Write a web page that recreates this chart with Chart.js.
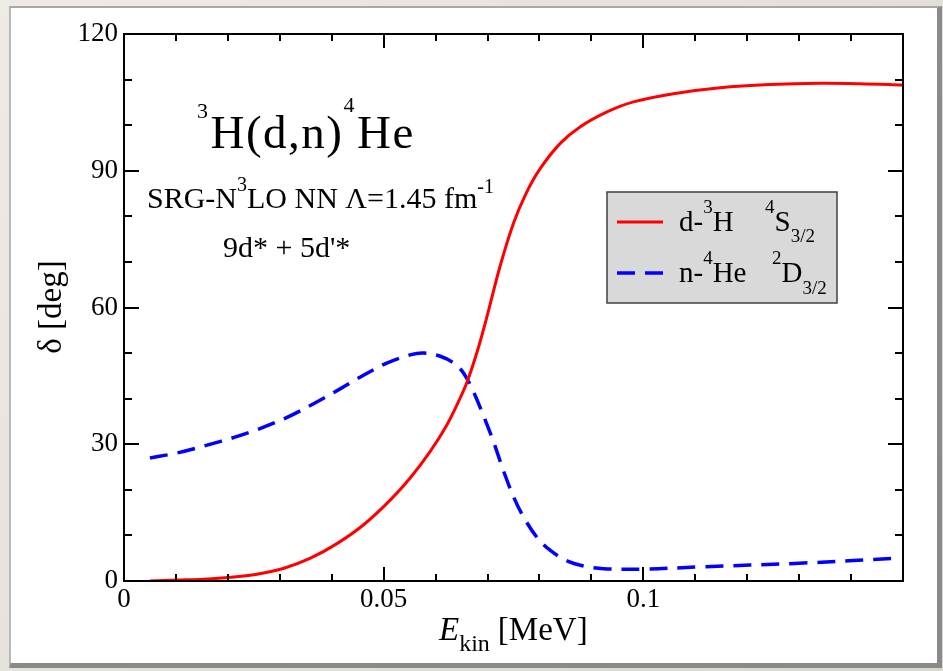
<!DOCTYPE html>
<html><head><meta charset="utf-8">
<script src="https://cdn.jsdelivr.net/npm/chart.js@4.4.1/dist/chart.umd.min.js"></script>
<style>
html,body{margin:0;padding:0;width:943px;height:671px;overflow:hidden;}
body{background:linear-gradient(135deg,#eeeae6 0%,#e4e0dc 50%,#d9d5d1 100%);position:relative;}
#panel{position:absolute;left:9px;top:6px;width:933px;height:662px;box-sizing:border-box;background:#fff;border-top:2px solid #a8a8a8;border-left:2px solid #b8b8b8;border-right:5px solid #8a8a8a;border-bottom:5px solid #8a8a8a;}
canvas{position:absolute;left:0;top:0;}
</style></head><body>
<div id="panel"></div>
<canvas id="c" width="943" height="671"></canvas>
<script>
// d-3H 4S3/2 phase shift
const dtE = [0.005, 0.0103, 0.0154, 0.0205, 0.0256, 0.0308, 0.0359, 0.041, 0.0462, 0.0513, 0.0551, 0.059, 0.0622, 0.0641, 0.066, 0.068, 0.0698, 0.0724, 0.075, 0.0775, 0.0801, 0.084, 0.0878, 0.093, 0.0981, 0.1058, 0.1148, 0.1244, 0.134, 0.1417, 0.15];
const dtDelta = [0.0, 0.2, 0.4, 0.8, 1.5, 2.8, 5.0, 8.2, 12.4, 17.8, 22.6, 28.5, 34.3, 38.6, 43.5, 50.3, 57.6, 69.0, 78.5, 85.2, 90.4, 96.0, 99.6, 102.9, 105.1, 106.9, 108.2, 108.9, 109.2, 109.1, 108.8];
// n-4He 2D3/2 phase shift
const nHeE = [0.005, 0.0103, 0.016, 0.0212, 0.0263, 0.0314, 0.0365, 0.0417, 0.0462, 0.0506, 0.0551, 0.0577, 0.0609, 0.0635, 0.0654, 0.0673, 0.0692, 0.0712, 0.0731, 0.075, 0.0769, 0.0795, 0.0821, 0.0853, 0.0885, 0.0923, 0.1, 0.111, 0.13, 0.149];
const nHeDelta = [27.0, 28.1, 29.8, 31.5, 33.5, 35.9, 38.9, 42.2, 45.2, 47.8, 49.6, 50.0, 49.3, 47.8, 45.6, 41.5, 36.3, 30.4, 24.1, 18.5, 14.1, 9.6, 6.7, 4.4, 3.3, 2.7, 2.6, 3.1, 3.9, 5.0];

const xTickValues = [0, 0.05, 0.1, 0.15];
const xTickLabels = ['0', '0.05', '0.1', ''];
const yTickValues = [0, 30, 60, 90, 120];
const yTickLabels = ['0', '30', '60', '90', '120'];

const serif = '"Liberation Serif","Times New Roman",serif';
function fnt(size, italic){ return (italic ? 'italic ' : '') + size + 'px ' + serif; }
function drawRuns(ctx, x, y, runs, spacing){
  let cx = x;
  ctx.letterSpacing = (spacing || 0) + 'px';
  for (const r of runs){
    ctx.font = fnt(r[1], r[3]);
    ctx.fillText(r[0], cx, y + (r[2] || 0));
    cx += ctx.measureText(r[0]).width + (r[4] || 0);
  }
  ctx.letterSpacing = '0px';
  return cx;
}

const framePlugin = {
  id: 'frame',
  afterDatasetsDraw(chart){
    const ctx = chart.ctx, a = chart.chartArea, xs = chart.scales.x, ys = chart.scales.y;
    ctx.save();
    ctx.strokeStyle = '#000'; ctx.lineWidth = 2; ctx.lineCap = 'butt';
    ctx.strokeRect(a.left, a.top, a.right - a.left, a.bottom - a.top);
    ctx.beginPath();
    for (let i = 1; i < 15; i++){
      const px = Math.round(xs.getPixelForValue(i / 100));
      const len = (i % 5 === 0) ? 14 : 7;
      ctx.moveTo(px, a.bottom); ctx.lineTo(px, a.bottom - len);
      ctx.moveTo(px, a.top); ctx.lineTo(px, a.top + len);
    }
    for (let j = 1; j < 12; j++){
      const py = Math.round(ys.getPixelForValue(j * 10));
      const len = (j % 3 === 0) ? 15 : 8;
      ctx.moveTo(a.left, py); ctx.lineTo(a.left + len, py);
      ctx.moveTo(a.right, py); ctx.lineTo(a.right - len, py);
    }
    ctx.stroke();
    ctx.restore();
  },
  afterDraw(chart){
    const ctx = chart.ctx;
    ctx.save();
    ctx.fillStyle = '#000';
    ctx.textBaseline = 'alphabetic';
    ctx.textAlign = 'left';
    // axis titles
    drawRuns(ctx, 439, 640, [['E', 33, 0, true], ['kin', 24, 11, false, 8], ['[MeV]', 33, 0]]);
    ctx.save();
    ctx.translate(61, 307);
    ctx.rotate(-Math.PI / 2);
    ctx.font = fnt(33);
    ctx.textAlign = 'center';
    ctx.fillText('\u03b4 [deg]', 0, 0);
    ctx.restore();
    // annotations
    drawRuns(ctx, 197, 148, [['3', 22, -30, false, 1], ['H(d,n)', 47, 0], ['4', 22, -36, false, 1], ['He', 47, 0]], 1.5);
    drawRuns(ctx, 147, 208, [['SRG-N', 30, 0], ['3', 20, -17], ['LO NN \u039b=1.45 fm', 30, 0], ['-1', 20, -15]]);
    drawRuns(ctx, 223, 257, [["9d* + 5d'*", 30, 0]]);
    // legend
    ctx.fillStyle = '#d9d9d9';
    ctx.fillRect(607, 192, 230, 111);
    ctx.strokeStyle = '#404040'; ctx.lineWidth = 1.5;
    ctx.strokeRect(607, 192, 230, 111);
    const ds = chart.data.datasets;
    ctx.lineWidth = ds[0].borderWidth; ctx.strokeStyle = ds[0].borderColor; ctx.setLineDash([]);
    ctx.beginPath(); ctx.moveTo(617, 222); ctx.lineTo(663, 222); ctx.stroke();
    ctx.lineWidth = ds[1].borderWidth; ctx.strokeStyle = ds[1].borderColor; ctx.setLineDash(ds[1].borderDash);
    ctx.beginPath(); ctx.moveTo(617, 273); ctx.lineTo(663, 273); ctx.stroke();
    ctx.setLineDash([]);
    ctx.fillStyle = '#000';
    drawRuns(ctx, 679, 231, [['d-', 29, 0], ['3', 19, -18], ['H', 29, 0]]);
    drawRuns(ctx, 765, 231, [['4', 19, -18], ['S', 29, 0], ['3/2', 19, 11]]);
    drawRuns(ctx, 679, 282, [['n-', 29, 0], ['4', 19, -18], ['He', 29, 0]]);
    drawRuns(ctx, 772, 282, [['2', 19, -18], ['D', 29, 0], ['3/2', 19, 12]]);
    ctx.restore();
  }
};

new Chart(document.getElementById('c').getContext('2d'), {
  type: 'line',
  data: {
    datasets: [
      { label: 'd-3H 4S3/2', data: dtE.map((e, i) => ({ x: e, y: dtDelta[i] })), borderColor: '#ff0000', borderWidth: 3, pointRadius: 0, tension: 0.35, fill: false },
      { label: 'n-4He 2D3/2', data: nHeE.map((e, i) => ({ x: e, y: nHeDelta[i] })), borderColor: '#0000ff', borderWidth: 3.5, borderDash: [18, 10], pointRadius: 0, tension: 0.35, fill: false }
    ]
  },
  options: {
    responsive: false, animation: false, devicePixelRatio: 1,
    layout: { padding: { left: 0, right: 40, top: 34, bottom: 0 } },
    plugins: { legend: { display: false }, tooltip: { enabled: false } },
    scales: {
      x: {
        type: 'linear', min: 0, max: 0.15,
        grid: { display: false, drawTicks: false }, border: { display: false },
        afterBuildTicks: s => { s.ticks = xTickValues.map(v => ({ value: v })); },
        afterFit: s => { s.height = 90; },
        ticks: { autoSkip: false, maxRotation: 0, padding: 3, color: '#000', font: { family: serif, size: 27 },
          callback: v => { const i = xTickValues.findIndex(t => Math.abs(t - v) < 1e-9); return i >= 0 ? xTickLabels[i] : ''; } }
      },
      y: {
        type: 'linear', min: 0, max: 120,
        grid: { display: false, drawTicks: false }, border: { display: false },
        afterBuildTicks: s => { s.ticks = yTickValues.map(v => ({ value: v })); },
        afterFit: s => { s.width = 124; },
        ticks: { autoSkip: false, padding: 6, color: '#000', font: { family: serif, size: 27 },
          callback: v => { const i = yTickValues.findIndex(t => Math.abs(t - v) < 1e-9); return i >= 0 ? yTickLabels[i] : ''; } }
      }
    }
  },
  plugins: [framePlugin]
});
</script></body></html>
